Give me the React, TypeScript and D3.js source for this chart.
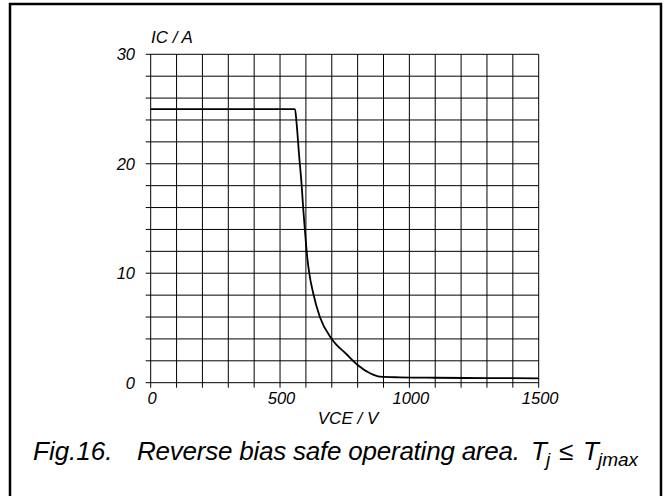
import React from "react";
import * as d3 from "d3";

const vce: number[] = [0, 558, 564, 574, 584, 590, 596, 605, 613, 628, 654, 700, 757, 800, 848, 886, 964, 1100, 1300, 1500];
const ic: number[] = [25, 25, 23.7, 20.7, 17.9, 15.8, 14.0, 11.5, 10.0, 8.2, 6.0, 4.0, 2.6, 1.62, 0.86, 0.55, 0.49, 0.45, 0.42, 0.4];
const xGrid: number[] = d3.range(0, 1501, 100);
const yGrid: number[] = d3.range(0, 31, 2);
const xTickLabels: number[] = [0, 500, 1000, 1500];
const yTickLabels: number[] = [0, 10, 20, 30];

const W = 665;
const H = 496;
const FONT = "'Liberation Sans', Arial, sans-serif";

export default function App() {
  const x = d3.scaleLinear().domain([0, 1500]).range([150.7, 538.7]);
  const y = d3.scaleLinear().domain([0, 30]).range([382.7, 54.3]);
  const pts = vce.map((v, i) => [v, ic[i]] as [number, number]);
  const line = d3
    .line<[number, number]>()
    .x((d) => x(d[0]))
    .y((d) => y(d[1]))
    .curve(d3.curveMonotoneX);

  return (
    <svg
      width={W}
      height={H}
      style={{ position: "absolute", left: 0, top: 0 }}
      fontFamily={FONT}
    >
      <rect x={0} y={0} width={W} height={H} fill="#fff" />
      <rect x={10} y={4} width={651} height={520} fill="none" stroke="#000" strokeWidth={2.5} />
      {/* grid */}
      {xGrid.map((v) => (
        <line key={"xg" + v} x1={x(v)} x2={x(v)} y1={y(30)} y2={y(0) + 5} stroke="#000" strokeWidth={1} />
      ))}
      {yGrid.map((v) => (
        <line key={"yg" + v} x1={x(0) - 5} x2={x(1500)} y1={y(v)} y2={y(v)} stroke="#000" strokeWidth={1} />
      ))}
      {/* curve */}
      <path d={line(pts) || ""} fill="none" stroke="#000" strokeWidth={1.8} />
      {/* tick labels */}
      {yTickLabels.map((v) => (
        <text key={"yl" + v} x={135} y={y(v) + 6} fontSize={16.5} fontStyle="italic" textAnchor="end" fill="#000">
          {v}
        </text>
      ))}
      {xTickLabels.map((v) => (
        <text key={"xl" + v} x={x(v) + 1.5} y={404} fontSize={16.5} fontStyle="italic" textAnchor="middle" fill="#000">
          {v}
        </text>
      ))}
      <text x={151} y={43} fontSize={17} fontStyle="italic" fill="#000">
        IC / A
      </text>
      <text x={348} y={424} fontSize={17} fontStyle="italic" textAnchor="middle" fill="#000">
        VCE / V
      </text>
      {/* caption */}
      <text y={460} fontSize={26} fontStyle="italic" fill="#000">
        <tspan x={33}>Fig.16.</tspan>
        <tspan x={137} textLength={383} lengthAdjust="spacing">Reverse bias safe operating area.</tspan>
        <tspan x={531}>T</tspan>
        <tspan x={546} fontSize={19} dy={6}>j</tspan>
        <tspan x={559} dy={-6}>≤</tspan>
        <tspan x={583}>T</tspan>
        <tspan x={598} fontSize={19} dy={6}>jmax</tspan>
      </text>
    </svg>
  );
}
